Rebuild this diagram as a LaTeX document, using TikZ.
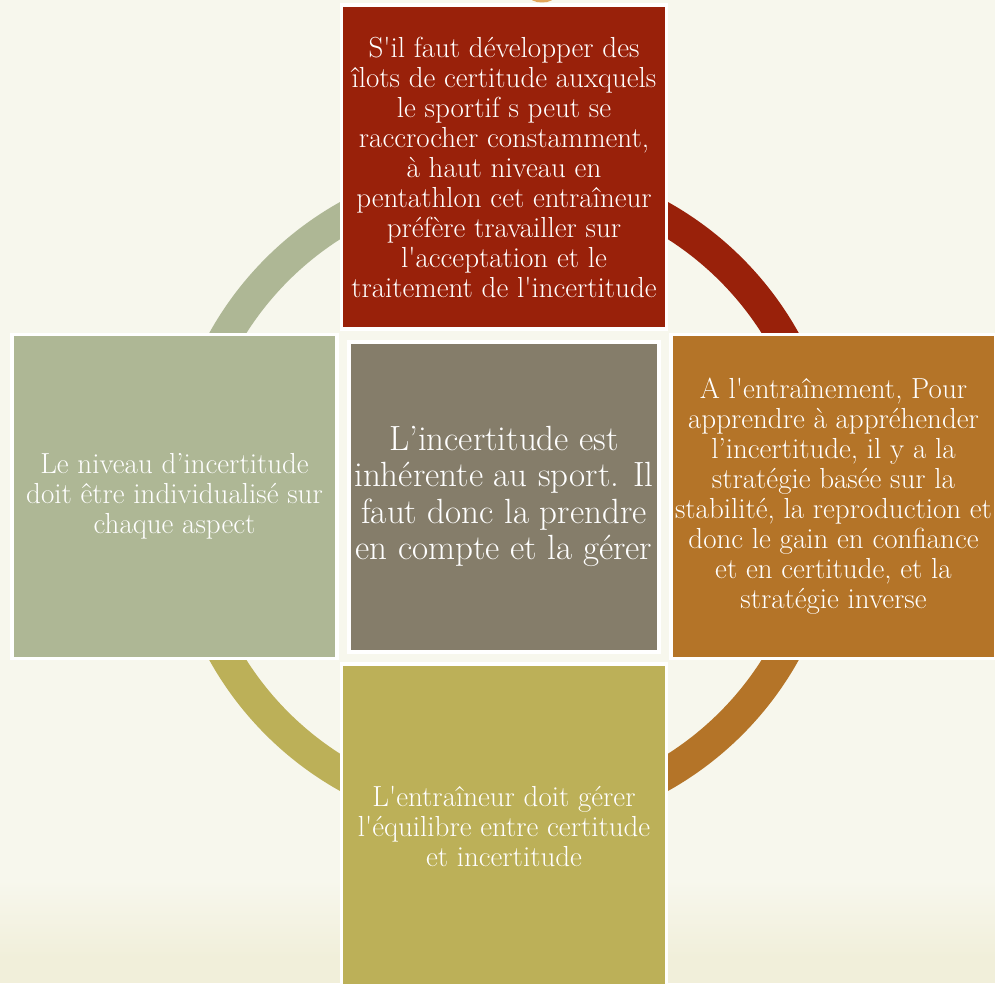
\documentclass[tikz,border=0pt]{standalone}
\usepackage{fontspec}
\definecolor{bgcream}{HTML}{F7F7ED}
\definecolor{bgfoot}{HTML}{F1EFDA}
\definecolor{boxred}{HTML}{99210A}
\definecolor{boxgreen}{HTML}{AEB795}
\definecolor{boxgray}{HTML}{857D6A}
\definecolor{boxorange}{HTML}{B47428}
\definecolor{boxolive}{HTML}{BCB058}
\definecolor{blobcolor}{HTML}{E2A65A}
\newcommand{\sq}{\textquotesingle}
\begin{document}
\begin{tikzpicture}[x=1pt,y=1pt,
    petal/.style={draw=white,line width=3.5pt,minimum width=325pt,minimum height=324pt,
      inner sep=0pt,text=white,align=center,font=\fontsize{29}{30}\selectfont},
    hub/.style={petal,minimum width=310pt,minimum height=310pt,line width=4pt,
      font=\fontsize{35}{36.5}\selectfont}]
        % draw the background
        \useasboundingbox (-504,-486.5) rectangle (491,496.5);
        \clip (-504,-486.5) rectangle (491,496.5);
        \fill[bgcream] (-504,-486.5) rectangle (491,496.5);
        \shade[top color=bgcream,bottom color=bgfoot] (-504,-461.5) rectangle (491,-383.5);
        \fill[bgfoot] (-504,-486.5) rectangle (491,-461.5);

        % the little shape cut off at the top
        \fill[blobcolor] (38,500.5) ellipse (13 and 6.5);

        % draw the ring, one quarter per colour
        \foreach \a/\c in {0/boxred,90/boxgreen,180/boxolive,270/boxorange}
                \draw[line width=32pt,\c] (\a:321) arc (\a:\a+90:321);

        % the centre box
        \node[hub,fill=boxgray] (hub) at (0,0)
            {L’incertitude est\\inhérente au sport. Il\\faut donc la prendre\\en compte et la gérer};

        % the four boxes round it
        \node[petal,fill=boxred] (top) at (90:329.5)
            {S\sq il faut développer des\\îlots de certitude auxquels\\le sportif s peut se\\
             raccrocher constamment,\\à haut niveau en\\pentathlon cet entraîneur\\
             préfère travailler sur\\l\sq acceptation et le\\traitement de l\sq incertitude};
        \node[petal,fill=boxorange] (right) at (0:329.5)
            {A l\sq entraînement, Pour\\apprendre à appréhender\\l’incertitude, il y a la\\
             stratégie basée sur la\\stabilité, la reproduction et\\donc le gain en confiance\\
             et en certitude, et la\\stratégie inverse};
        \node[petal,fill=boxolive] (bottom) at (270:329.5)
            {L\sq entraîneur doit gérer\\l\sq équilibre entre certitude\\et incertitude};
        \node[petal,fill=boxgreen] (left) at (180:329.5)
            {Le niveau d’incertitude\\doit être individualisé sur\\chaque aspect};
\end{tikzpicture}
\end{document}
